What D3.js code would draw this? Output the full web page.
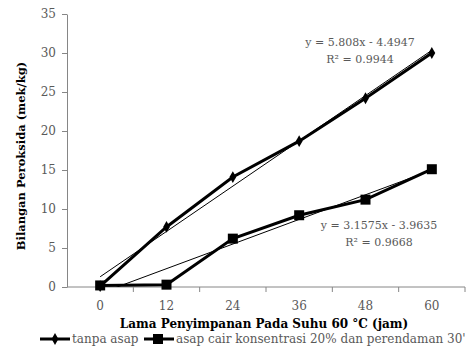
<!DOCTYPE html>
<html>
<head>
<meta charset="utf-8">
<script src="https://cdn.jsdelivr.net/npm/d3@7"></script>
<style>
  html, body { margin: 0; padding: 0; background: #fff; overflow: hidden; }
  svg text { font-family: "DejaVu Serif", serif; }
</style>
</head>
<body>
<div id="chart"></div>
<script>
const hours = ["0", "12", "24", "36", "48", "60"];
const tanpaAsap = [0.1, 7.7, 14.1, 18.7, 24.2, 30.0];
const asapCair = [0.2, 0.3, 6.2, 9.2, 11.2, 15.1];
const yTicks = [0, 5, 10, 15, 20, 25, 30, 35];
// excel linear trendlines, x = 1..6
const trendTanpa = { slope: 5.808, intercept: -4.4947, eq: "y = 5.808x - 4.4947", r2: "R² = 0.9944" };
const trendCair = { slope: 3.1575, intercept: -3.9635, eq: "y = 3.1575x - 3.9635", r2: "R² = 0.9668" };

const W = 476, H = 362;
const margin = { top: 14, right: 11, bottom: 75, left: 67 };
const width = W - margin.left - margin.right;
const height = H - margin.top - margin.bottom;

const svg = d3.select('#chart').append('svg')
  .attr('width', W).attr('height', H);

const g = svg.append('g')
  .attr('transform', `translate(${margin.left},${margin.top})`);

const x = d3.scaleBand().domain(hours).range([0, width]);
const cx = h => x(h) + x.bandwidth() / 2;
// trendline x index 1..6 -> pixel
const xi = d3.scaleLinear().domain([1, 6]).range([cx(hours[0]), cx(hours[5])]);
const y = d3.scaleLinear().domain([0, 35]).range([height, 0]);

const grey = '#868686';
const labelColor = '#595959';

// Y axis
g.append('g')
  .call(d3.axisLeft(y).tickValues(yTicks).tickSize(5).tickPadding(6).tickSizeOuter(0))
  .attr('font-family', null)
  .call(a => a.select('.domain').attr('stroke', grey))
  .call(a => a.selectAll('.tick line').attr('stroke', grey))
  .call(a => a.selectAll('text').attr('fill', labelColor).style('font-size', '12px'));

// X axis with ticks on band edges
const xAxis = g.append('g').attr('transform', `translate(0,${height})`);
xAxis.append('line').attr('x1', 0).attr('x2', width).attr('stroke', grey);
xAxis.selectAll('line.tk')
  .data(hours.slice(1).concat(['end']))
  .enter().append('line').attr('class', 'tk')
  .attr('x1', (d, i) => x.step() * (i + 1)).attr('x2', (d, i) => x.step() * (i + 1))
  .attr('y1', 0).attr('y2', 5).attr('stroke', grey);
xAxis.selectAll('text')
  .data(hours)
  .enter().append('text')
  .attr('x', d => cx(d)).attr('y', 23)
  .attr('text-anchor', 'middle')
  .attr('fill', labelColor).style('font-size', '12px')
  .text(d => d);

// Axis titles
svg.append('text')
  .attr('transform', `translate(25,156) rotate(-90)`)
  .attr('text-anchor', 'middle')
  .style('font-weight', 'bold').style('font-size', '11.5px')
  .attr('fill', '#000')
  .text('Bilangan Peroksida  (mek/kg)');

svg.append('text')
  .attr('x', 264).attr('y', 328)
  .attr('text-anchor', 'middle')
  .style('font-weight', 'bold').style('font-size', '12px')
  .attr('fill', '#000')
  .text('Lama  Penyimpanan Pada Suhu 60 °C  (jam)');

// clip for trendlines
svg.append('defs').append('clipPath').attr('id', 'plot-clip')
  .append('rect').attr('x', 0).attr('y', 0).attr('width', width).attr('height', height);

const trendLine = t => g.append('line')
  .attr('clip-path', 'url(#plot-clip)')
  .attr('x1', xi(1)).attr('y1', y(t.slope * 1 + t.intercept))
  .attr('x2', xi(6)).attr('y2', y(t.slope * 6 + t.intercept))
  .attr('stroke', '#000').attr('stroke-width', 1);

trendLine(trendTanpa);
trendLine(trendCair);

const line = d3.line()
  .x((d, i) => cx(hours[i]))
  .y(d => y(d));

// Series lines
[tanpaAsap, asapCair].forEach(s => {
  g.append('path').datum(s)
    .attr('fill', 'none').attr('stroke', '#000').attr('stroke-width', 3)
    .attr('d', line);
});

// Markers
const diamond = d3.symbol().type(d3.symbolDiamond).size(40);
g.selectAll('path.dm').data(tanpaAsap).enter().append('path').attr('class', 'dm')
  .attr('d', diamond)
  .attr('transform', (d, i) => `translate(${cx(hours[i])},${y(d)})`)
  .attr('fill', '#000');

g.selectAll('rect.sq').data(asapCair).enter().append('rect').attr('class', 'sq')
  .attr('x', (d, i) => cx(hours[i]) - 5).attr('y', d => y(d) - 5)
  .attr('width', 10).attr('height', 10)
  .attr('fill', '#000');

// Equation labels
const eqLabel = (t, xc, yc) => {
  const tx = svg.append('text').attr('text-anchor', 'middle')
    .attr('fill', labelColor).style('font-size', '11px');
  tx.append('tspan').attr('x', xc).attr('y', yc).text(t.eq);
  tx.append('tspan').attr('x', xc).attr('y', yc + 17).text(t.r2);
};
eqLabel(trendTanpa, 360, 46);
eqLabel(trendCair, 379, 229);

// Legend
const legend = svg.append('g').attr('transform', 'translate(0,339)');
const items = [
  { name: 'tanpa asap', marker: 'diamond', x0: 40 },
  { name: 'asap cair konsentrasi  20% dan perendaman 30\'', marker: 'square', x0: 144 }
];
items.forEach(it => {
  const lg = legend.append('g').attr('transform', `translate(${it.x0},0)`);
  lg.append('line').attr('x1', 0).attr('x2', 30).attr('stroke', '#000').attr('stroke-width', 3);
  if (it.marker === 'diamond') {
    lg.append('path').attr('d', diamond).attr('transform', 'translate(15,0)').attr('fill', '#000');
  } else {
    lg.append('rect').attr('x', 9).attr('y', -5).attr('width', 10).attr('height', 10).attr('fill', '#000');
  }
  lg.append('text').attr('x', 32).attr('y', 4)
    .attr('fill', labelColor).style('font-size', '12px')
    .text(it.name);
});
</script>
</body>
</html>
